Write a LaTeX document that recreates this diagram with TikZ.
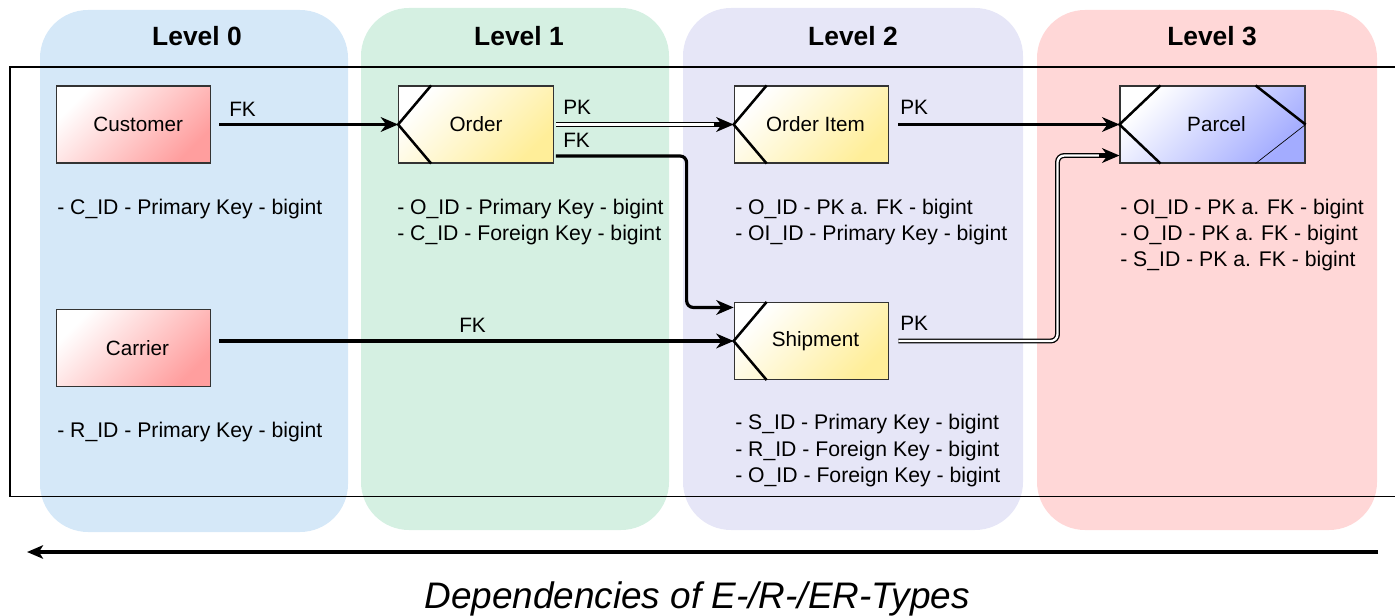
\documentclass[tikz,border=0pt]{standalone}
\usepackage{fontspec}
\setmainfont{Liberation Sans}
\usetikzlibrary{arrows.meta,calc}
\definecolor{c0}{HTML}{D5E8F8}
\definecolor{c1}{HTML}{D5F0E2}
\definecolor{c2}{HTML}{E6E6F7}
\definecolor{c3}{HTML}{FFD7D7}
\definecolor{pinkE}{HTML}{FF9E9E}
\definecolor{yelE}{HTML}{FFEE99}
\definecolor{bluE}{HTML}{A3ACFF}
\definecolor{bord}{HTML}{333333}
\begin{document}
\begin{tikzpicture}[x=0.75pt,y=-0.75pt,
  col/.style={rounded corners=36pt},
  ttl/.style={font=\bfseries\fontsize{19.8}{23}\selectfont, inner sep=0},
  ent/.style={draw=bord, line width=0.8pt, minimum width=116pt, minimum height=57.75pt, inner sep=0, font=\fontsize{15.5}{18}\selectfont},
  etype/.style={ent, top color=white, bottom color=pinkE, shading angle=45},
  rtype/.style={ent, top color=white, bottom color=yelE, shading angle=45},
  ertype/.style={ent, minimum width=138.75pt, top color=white, bottom color=bluE, shading angle=45},
  chev/.style={line width=1.9pt},
  attr/.style={anchor=base west, inner sep=0, font=\fontsize{15.9}{18}\selectfont},
  lbl/.style={anchor=base west, inner sep=0, font=\fontsize{15.6}{18}\selectfont},
  fk/.style={line width=2.4pt, -{Stealth[length=13pt,width=11pt,inset=4pt]}},
  dbl/.style={line width=1pt, double=white, double distance=1.7pt},
  tip/.style={line width=2.4pt, -{Stealth[length=13pt,width=11pt,inset=4pt]}}
]
\useasboundingbox (0,0) rectangle (1395,616);
% level columns
\fill[c0, col] (40,10) rectangle (348,532);
\fill[c1, col] (361,8) rectangle (669,530);
\fill[c2, col] (683,8) rectangle (1023,530);
\fill[c3, col] (1037,10) rectangle (1377,530);
\node[ttl] (t0) at (197,36) {Level 0};
\node[ttl] (t1) at (519,36) {Level 1};
\node[ttl] (t2) at (853,36) {Level 2};
\node[ttl] (t3) at (1212,36) {Level 3};
% frame
\draw[line width=1pt] (1396,67) -- (10,67) -- (10,496.5) -- (1396,496.5);
% entities
\node[etype] (cust) at (133.5,124.5) {\hspace*{7pt}Customer};
\node[etype] (car) at (133.5,348) {\hspace*{6pt}Carrier};
\node[rtype] (ord) at (476,124.5) {Order};
\node[rtype] (oi) at (811.5,124.5) {\hspace*{6pt}Order Item};
\node[rtype] (shp) at (811.5,341) {\hspace*{6pt}Shipment};
\node[ertype] (par) at (1212.5,124.5) {\hspace*{6pt}Parcel};
% chevrons
\foreach \n in {ord,oi,shp}{
  \draw[chev] ($(\n.north west)+(33,0)$) -- (\n.west) -- ($(\n.south west)+(33,0)$);
}
\draw[chev] ($(par.north west)+(41,0)$) -- (par.west) -- ($(par.south west)+(41,0)$);
\draw[chev] ($(par.north east)+(-50,0)$) -- (par.east);
\draw[line width=0.5pt] (par.east) -- ($(par.south east)+(-50,0)$);
% attributes
\node[attr] (a1) at (57,214.5) {- C\_ID - Primary Key - bigint};
\node[attr] (a2) at (57,437.5) {- R\_ID - Primary Key - bigint};
\node[attr] (a3) at (397,214.5) {- O\_ID - Primary Key - bigint};
\node[attr] (a4) at (397,240.5) {- C\_ID - Foreign Key - bigint};
\node[attr] (a5) at (735,214.5) {- O\_ID - PK a. FK - bigint};
\node[attr] (a6) at (735,240.5) {- OI\_ID - Primary Key - bigint};
\node[attr] (a7) at (735,429.5) {- S\_ID - Primary Key - bigint};
\node[attr] (a8) at (735,456) {- R\_ID - Foreign Key - bigint};
\node[attr] (a9) at (735,482.5) {- O\_ID - Foreign Key - bigint};
\node[attr] (a10) at (1120,214.5) {- OI\_ID - PK a. FK - bigint};
\node[attr] (a11) at (1120,240.5) {- O\_ID - PK a. FK - bigint};
\node[attr] (a12) at (1120,266.5) {- S\_ID - PK a. FK - bigint};
% connectors
\draw[fk] ($(cust.east)+(8,0)$) -- (ord.west);
\node[lbl] (l1) at (229,117) {FK};

\draw[dbl] ($(ord.east)+(2,0)$) -- ($(oi.west)+(-11,0)$);
\draw[tip] ($(oi.west)+(-20,0)$) -- (oi.west);
\node[lbl] (l2) at (563,114.5) {PK};

\coordinate (b1) at ($(ord.east)+(2,31.5)$);
\coordinate (b2) at ($(shp.north west)+(0,5.5)$);
\draw[fk, rounded corners=5pt] (b1) -| ($(b2)+(-47,0)$) -- (b2);
\node[lbl] (l3) at (563,148) {FK};

\coordinate (c1) at ($(car.east)+(8,0)$);
\draw[fk] (c1 |- shp.west) -- (shp.west);
\node[lbl] (l4) at (459,333) {FK};

\draw[fk] ($(oi.east)+(9,0)$) -- (par.west);
\node[lbl] (l5) at (900,114.5) {PK};

\coordinate (d1) at ($(shp.east)+(9,0)$);
\coordinate (d2) at ($(par.south west)+(0,-8)$);
\draw[dbl, rounded corners=5pt] (d1) -| ($(d2)+(-62,0)$) -- ($(d2)+(-11,0)$);
\draw[tip] ($(d2)+(-20,0)$) -- (d2);
\node[lbl] (l6) at (900,331) {PK};
% bottom arrow & caption
\coordinate (ar1) at (1378,552);
\coordinate (ar2) at (27,552);
\draw[line width=2.3pt, -{Stealth[length=12pt,width=10pt,inset=3pt]}] (ar1) -- (ar2);
\node[anchor=base, inner sep=0, font=\itshape\fontsize{27.7}{33}\selectfont] (cap) at (697,608) {Dependencies of E-/R-/ER-Types};
\end{tikzpicture}
\end{document}
